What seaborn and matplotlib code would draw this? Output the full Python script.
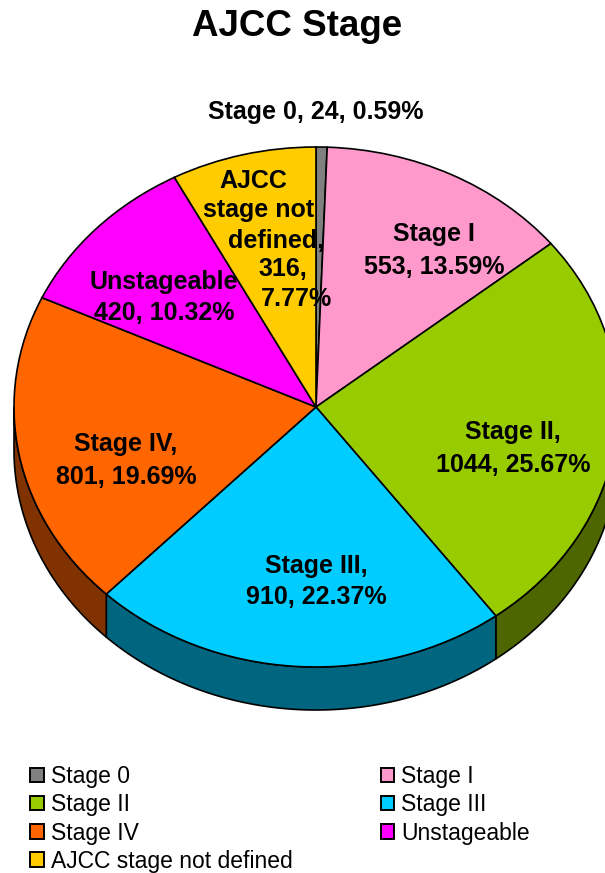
import numpy as np
import matplotlib
matplotlib.use("Agg")
import matplotlib.pyplot as plt
from matplotlib.patches import Polygon, Patch
import seaborn as sns

# ---- data ----
categories = ["Stage 0", "Stage I", "Stage II", "Stage III", "Stage IV",
              "Unstageable", "AJCC stage not defined"]
counts = [24, 553, 1044, 910, 801, 420, 316]
pct_labels = ["0.59%", "13.59%", "25.67%", "22.37%", "19.69%", "10.32%", "7.77%"]
label_texts = ["Stage 0, 24, 0.59%",
               "Stage I\n553, 13.59%",
               "Stage II,\n1044, 25.67%",
               "Stage III,\n910, 22.37%",
               "Stage IV,\n801, 19.69%",
               "Unstageable\n420, 10.32%",
               "AJCC\nstage not\ndefined,\n316,\n7.77%"]
colors = ["#808080", "#FF99CC", "#99CC00", "#00CCFF", "#FF6600", "#FF00FF", "#FFCC00"]

sns.set_theme(style="white")
plt.rcParams["font.family"] = ["Liberation Sans", "DejaVu Sans"]
plt.rcParams["text.color"] = "black"

W, H = 605, 873
fig = plt.figure(figsize=(W / 100, H / 100), dpi=100)
ax = fig.add_axes([0, 0, 1, 1])

# geometry (pixels)
cx, cy = 316, 407
rx, ry = 302, 260
depth = 43 / ry

# label line positions in pixels (x center, y center) for each line
label_lines_px = [
    [(316, 110)],
    [(434, 232), (434, 264)],
    [(513, 429), (513, 462)],
    [(316, 563), (316, 595)],
    [(126, 442), (126, 474)],
    [(164, 279), (164, 311)],
    [(253, 179), (259, 208), (276, 238), (283, 267), (296, 296)],
]

def darker(c, f=0.5):
    r, g, b = matplotlib.colors.to_rgb(c)
    return (r * f, g * f, b * f)

# side walls from the data angles
total = sum(counts)
a1 = 90.0
for val, col in zip(counts, colors):
    a2 = a1 - val / total * 360.0
    lo, hi = max(a2, -180.0), min(a1, 0.0)
    if lo < hi:
        t = np.radians(np.linspace(lo, hi, 100))
        top = np.column_stack([np.cos(t), np.sin(t)])
        bot = np.column_stack([np.cos(t[::-1]), np.sin(t[::-1]) - depth])
        poly = Polygon(np.vstack([top, bot]), closed=True, facecolor=darker(col),
                       edgecolor="black", linewidth=1.2, zorder=1)
        ax.add_patch(poly)
    a1 = a2

wedges, _ = ax.pie(counts, colors=colors, startangle=90, counterclock=False,
                   wedgeprops=dict(edgecolor="black", linewidth=1.2))
for w in wedges:
    w.set_zorder(2)

ax.set_aspect("auto")
ax.set_xlim(-cx / rx, (W - cx) / rx)
ax.set_ylim(-(H - cy) / ry, cy / ry)
ax.axis("off")

for txt, pos in zip(label_texts, label_lines_px):
    for line, (px, py) in zip(txt.split("\n"), pos):
        ax.text((px - cx) / rx, (cy - py) / ry, line, ha="center", va="center_baseline",
                fontsize=18, fontweight="bold", zorder=5, color="black")

fig.text(297 / W, 1 - 26 / H, "AJCC Stage", ha="center", va="center",
         fontsize=26.5, fontweight="bold", color="black")

handles = {c: Patch(facecolor=col, edgecolor="black", linewidth=1.4)
           for c, col in zip(categories, colors)}
order = ["Stage 0", "Stage II", "Stage IV", "AJCC stage not defined",
         "Stage I", "Stage III", "Unstageable"]
leg = fig.legend([handles[o] for o in order], order, ncol=2,
                 loc="upper left", bbox_to_anchor=(30 / W, 1 - 765 / H),
                 frameon=False, fontsize=16.5, handlelength=0.6, handleheight=0.6,
                 handletextpad=0.3, labelspacing=0.23, columnspacing=3.85,
                 borderaxespad=0, borderpad=0)
for t in leg.get_texts():
    t.set_color("black")

fig.savefig("out.png", dpi=100)
